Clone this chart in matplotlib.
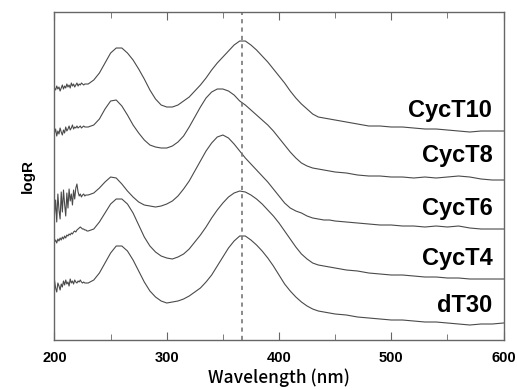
import numpy as np
import matplotlib
matplotlib.use('Agg')
import matplotlib.pyplot as plt
from matplotlib.ticker import MultipleLocator

# wavelength grid (nm): 1 nm steps in the noisy UV end, coarser further out
wl_noise = list(range(200, 230))
wl_mid = list(range(230, 451, 5))
wl_tail = list(range(460, 601, 10))
wavelength = wl_noise + wl_mid + wl_tail

# logR (arbitrary units, curves offset for clarity)
cyc_t10 = [252, 250, 254, 251, 253, 249, 252, 255, 251, 254, 252, 256, 253, 255, 252,
           257, 254, 256, 253, 255, 257, 254, 256, 255, 257, 256, 255, 256, 256, 256,
           256, 260, 267, 277, 287, 292, 292, 287, 280, 271, 261, 250, 241, 235, 233,
           233, 235, 239, 243, 249, 255, 262, 270, 277, 283, 289, 295, 299, 299, 295,
           290, 284, 278, 271, 264, 257, 249, 242, 236, 231, 226, 223, 222, 221, 220,
           218, 216, 214, 214, 213, 213, 212, 211, 211, 210, 209, 208, 209, 209, 209]
cyc_t8 = [207, 211, 204, 209, 206, 212, 208, 205, 210, 207, 213, 209, 211, 214, 210,
          212, 215, 211, 213, 212, 214, 212, 213, 214, 212, 213, 214, 213, 213, 213,
          213, 215, 221, 231, 239, 240, 234, 225, 215, 207, 200, 195, 193, 192, 192,
          194, 198, 204, 213, 223, 233, 242, 248, 251, 251, 249, 245, 239, 235, 230,
          225, 220, 215, 209, 202, 195, 188, 182, 177, 174, 172, 171, 170, 169, 168,
          167, 165, 164, 164, 163, 163, 162, 163, 162, 163, 164, 163, 161, 160, 160]
cyc_t6 = [125, 140, 118, 146, 130, 121, 148, 128, 150, 136, 124, 147, 132, 151, 139,
          146, 135, 150, 141, 152, 156, 148, 144, 146, 143, 145, 146, 144, 145, 145,
          145, 147, 152, 158, 163, 162, 156, 149, 143, 138, 135, 134, 133, 134, 136,
          139, 144, 151, 159, 169, 179, 189, 197, 203, 205, 202, 196, 189, 182, 176,
          170, 164, 158, 151, 144, 137, 132, 129, 127, 124, 122, 121, 120, 120, 119,
          118, 117, 116, 115, 115, 114, 114, 113, 114, 113, 114, 112, 111, 111, 111]
cyc_t4 = [98, 100, 97, 101, 99, 102, 100, 103, 101, 104, 102, 105, 104, 106, 105,
          107, 106, 108, 109, 108, 110, 111, 112, 113, 112, 111, 111, 110, 110, 109,
          109, 111, 118, 127, 136, 141, 141, 136, 127, 115, 103, 94, 88, 84, 82,
          81, 83, 86, 91, 98, 105, 113, 122, 130, 137, 143, 147, 149, 148, 145,
          141, 136, 130, 124, 117, 109, 101, 93, 86, 81, 77, 75, 74, 73, 72,
          70, 69, 67, 66, 65, 65, 64, 63, 63, 62, 62, 61, 61, 61, 61]
dt30 = [60, 52, 48, 57, 54, 50, 56, 53, 59, 55, 60, 56, 58, 54, 61,
        57, 59, 56, 60, 58, 57, 59, 58, 60, 58, 57, 58, 57, 57, 57,
        57, 60, 67, 77, 87, 94, 94, 89, 80, 69, 58, 49, 43, 39, 37,
        38, 39, 41, 44, 48, 52, 58, 65, 74, 83, 92, 99, 104, 104, 100,
        95, 89, 82, 74, 65, 56, 49, 43, 38, 34, 31, 29, 28, 27, 26,
        25, 23, 22, 21, 20, 20, 19, 18, 18, 17, 16, 15, 16, 16, 17]

series = [cyc_t10, cyc_t8, cyc_t6, cyc_t4, dt30]
names = ['CycT10', 'CycT8', 'CycT6', 'CycT4', 'dT30']
peak_nm = 367

fig = plt.figure(figsize=(5.17, 3.90), dpi=100)
ax = fig.add_axes([0.1054, 0.1282, 0.8685, 0.841])

for ys in series:
    ax.plot(wavelength, ys, color='#4a4a4a', lw=0.8)

ax.axvline(peak_nm, color='#777777', lw=1.2, ls=(0, (2.5, 2.5)))

# sample names at the right end
label_y = [230, 185, 132, 82, 35]
for name, yl in zip(names, label_y):
    ax.text(590, yl, name, ha='right', va='center', fontsize=17,
            fontweight='bold', family='Liberation Sans', color='black')

ax.set_xlim(200, 600)
ax.set_ylim(0, 328)
ax.xaxis.set_major_locator(MultipleLocator(100))
ax.xaxis.set_minor_locator(MultipleLocator(50))
ax.tick_params(axis='x', which='both', direction='in', top=True, colors='#666666',
               labelcolor='black', pad=8)
ax.tick_params(axis='x', which='major', length=6)
ax.tick_params(axis='x', which='minor', length=4)
ax.set_yticks([])
for lab in ax.get_xticklabels():
    lab.set_fontweight('bold')
    lab.set_fontsize(10.5)
    lab.set_family('Liberation Sans')
for sp in ax.spines.values():
    sp.set_color('#666666')
    sp.set_linewidth(1.0)

ax.set_xlabel('Wavelength (nm)', family=['Noto Sans CJK JP', 'DejaVu Sans'],
              fontsize=12.5, fontweight='medium', labelpad=2)
ax.set_ylabel('logR', family='Liberation Sans', fontweight='bold', fontsize=11,
              labelpad=14)

fig.savefig('out.png', dpi=100)
